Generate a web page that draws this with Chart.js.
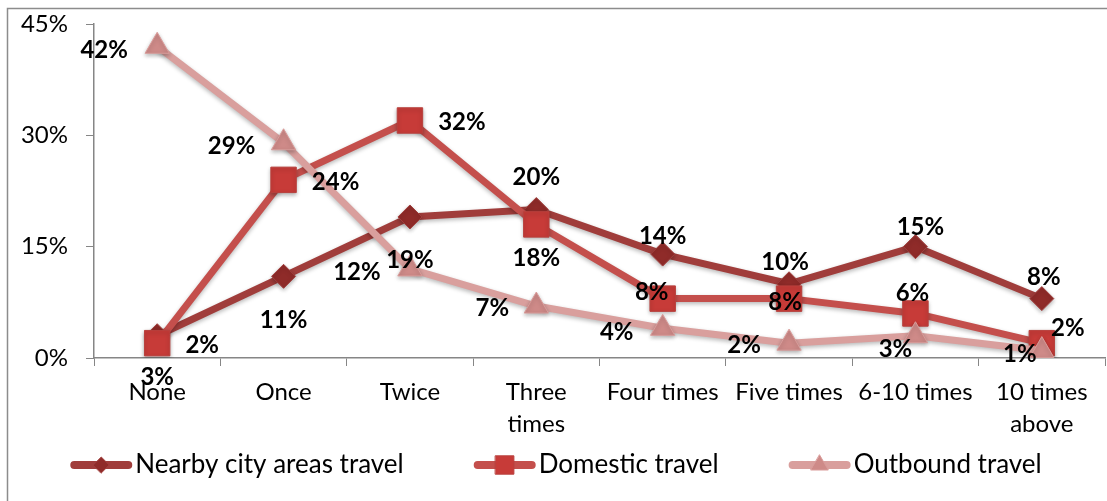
<!DOCTYPE html>
<html>
<head>
<meta charset="utf-8">
<title>Travel frequency</title>
<script src="https://cdn.jsdelivr.net/npm/chart.js@4.4.1/dist/chart.umd.min.js"></script>
<style>
    html, body { margin: 0; padding: 0; background: #fff; overflow: hidden; }
    #wrap { position: relative; width: 1107px; height: 501px; }
</style>
</head>
<body>
<div id="wrap"><canvas id="travelChart"></canvas></div>
<script>
// 카테고리 / 시리즈 데이터
const categories = ['None', 'Once', 'Twice', ['Three', 'times'], 'Four times', 'Five times', '6-10 times', ['10 times', 'above']];
const nearbyValues = [3, 11, 19, 20, 14, 10, 15, 8];
const domesticValues = [2, 24, 32, 18, 8, 8, 6, 2];
const outboundValues = [42, 29, 12, 7, 4, 2, 3, 1];
const yTicks = [0, 15, 30, 45];
const seriesNames = ['Nearby city areas travel', 'Domestic travel', 'Outbound travel'];

// 데이터 라벨 위치 (점 기준 dx, dy)
const nearbyLabelOffsets = [[0, 42], [0, 44], [0, 43], [0, -32], [0, -18], [-4, -22], [5, -19], [2, -21]];
const domesticLabelOffsets = [[45, 2], [52, 2], [52, 2], [0, 34], [-11, -6], [-4, 4], [-3, -20], [26, -15]];
const outboundLabelOffsets = [[-53, 4], [-52, 4], [-53, 3], [-44, 2], [-46, 4], [-45, 2], [-20, 14], [-22, 4]];

const FONT = 'Lato, "Open Sans", sans-serif';
const AXIS_COLOR = '#868686';

// 차트 테두리 (왼쪽/위)
const framePlugin = {
    id: 'frame',
    beforeDraw(chart) {
        const ctx = chart.ctx;
        ctx.save();
        ctx.strokeStyle = '#8c8c8c';
        ctx.lineWidth = 1.5;
        ctx.beginPath();
        ctx.moveTo(7.5, chart.height + 5);
        ctx.lineTo(7.5, 8.5);
        ctx.lineTo(chart.width + 5, 8.5);
        ctx.stroke();
        ctx.restore();
    }
};

// 선/마커 그림자
const shadowPlugin = {
    id: 'seriesShadow',
    beforeDatasetsDraw(chart) {
        const ctx = chart.ctx;
        ctx.save();
        ctx.shadowColor = 'rgba(0, 0, 0, 0.28)';
        ctx.shadowBlur = 4;
        ctx.shadowOffsetY = 2;
    },
    afterDatasetsDraw(chart) {
        chart.ctx.restore();
    }
};

// 데이터 라벨
const dataLabelPlugin = {
    id: 'dataLabels',
    afterDatasetsDraw(chart) {
        const ctx = chart.ctx;
        ctx.save();
        ctx.font = 'bold 24px ' + FONT;
        ctx.fillStyle = '#000';
        ctx.textAlign = 'center';
        ctx.textBaseline = 'middle';
        chart.data.datasets.forEach((ds, i) => {
            const meta = chart.getDatasetMeta(i);
            meta.data.forEach((pt, j) => {
                const [dx, dy] = ds.labelOffsets[j];
                ctx.fillText(ds.data[j] + '%', pt.x + dx, pt.y + dy);
            });
        });
        ctx.restore();
    }
};

// 하단 범례 (선 + 마커)
const legendPlugin = {
    id: 'bottomLegend',
    afterDraw(chart) {
        const ctx = chart.ctx;
        const y = 465;
        const lineLen = 62, textGap = 3, itemGap = 70;
        ctx.save();
        ctx.font = '26px ' + FONT;
        const widths = chart.data.datasets.map(ds => ctx.measureText(ds.label).width);
        const total = widths.reduce((s, w) => s + lineLen + textGap + w, 0) + itemGap * (widths.length - 1);
        let x = 556 - total / 2;
        chart.data.datasets.forEach((ds, i) => {
            ctx.strokeStyle = ds.borderColor;
            ctx.lineWidth = 8;
            ctx.lineCap = 'round';
            ctx.beginPath();
            ctx.moveTo(x + 4, y);
            ctx.lineTo(x + lineLen - 4, y);
            ctx.stroke();

            ctx.fillStyle = ds.pointBackgroundColor;
            ctx.strokeStyle = ds.pointBorderColor;
            ctx.lineWidth = 1;
            Chart.helpers.drawPoint(ctx, {
                pointStyle: ds.pointStyle,
                rotation: 0,
                radius: ds.legendRadius,
                borderWidth: 1
            }, x + lineLen / 2, y);

            ctx.fillStyle = '#000';
            ctx.textAlign = 'left';
            ctx.textBaseline = 'middle';
            ctx.fillText(ds.label, x + lineLen + textGap, y);
            x += lineLen + textGap + widths[i] + itemGap;
        });
        ctx.restore();
    }
};

new Chart(document.getElementById('travelChart'), {
    type: 'line',
    data: {
        labels: categories,
        datasets: [
            {
                label: seriesNames[0],
                data: nearbyValues,
                labelOffsets: nearbyLabelOffsets,
                borderColor: '#A03D3B',
                borderWidth: 7,
                pointStyle: 'rectRot',
                pointRadius: 12,
                legendRadius: 8,
                pointBackgroundColor: '#8F2B29',
                pointBorderColor: '#A13F3D',
                pointBorderWidth: 1,
                order: 3
            },
            {
                label: seriesNames[1],
                data: domesticValues,
                labelOffsets: domesticLabelOffsets,
                borderColor: '#C44F4C',
                borderWidth: 7,
                pointStyle: 'rect',
                pointRadius: 18,
                legendRadius: 13,
                pointBackgroundColor: '#C73B38',
                pointBorderColor: '#B8403D',
                pointBorderWidth: 1,
                order: 2
            },
            {
                label: seriesNames[2],
                data: outboundValues,
                labelOffsets: outboundLabelOffsets,
                borderColor: '#D99F9D',
                borderWidth: 7,
                pointStyle: 'triangle',
                pointRadius: 14,
                legendRadius: 10,
                pointBackgroundColor: '#CE8A88',
                pointBorderColor: '#D99C9A',
                pointBorderWidth: 1,
                order: 1
            }
        ]
    },
    options: {
        responsive: true,
        maintainAspectRatio: false,
        animation: false,
        events: [],
        layout: { autoPadding: false, padding: { left: 0, right: 2, top: 24, bottom: 0 } },
        elements: {
            line: { tension: 0, borderJoinStyle: 'round', borderCapStyle: 'round' }
        },
        plugins: {
            legend: { display: false },
            tooltip: { enabled: false }
        },
        scales: {
            x: {
                offset: true,
                grid: { offset: true, drawOnChartArea: false, tickLength: 8, color: AXIS_COLOR },
                border: { color: AXIS_COLOR, width: 1.5 },
                ticks: {
                    font: { family: FONT, size: 24, lineHeight: 1.34 },
                    color: '#000',
                    padding: 10,
                    maxRotation: 0,
                    autoSkip: false
                },
                afterFit: scale => {
                    scale.height = 143;
                    scale.paddingLeft = 0;
                    scale.paddingRight = 0;
                }
            },
            y: {
                min: 0,
                max: 45,
                afterBuildTicks: scale => { scale.ticks = yTicks.map(v => ({ value: v })); },
                grid: { drawOnChartArea: false, tickLength: 8, color: AXIS_COLOR },
                border: { color: AXIS_COLOR, width: 1.5 },
                ticks: {
                    callback: value => value + '%',
                    font: { family: FONT, size: 24 },
                    color: '#000',
                    padding: 18
                },
                afterFit: scale => {
                    scale.width = 94;
                    scale.paddingTop = 0;
                    scale.paddingBottom = 0;
                }
            }
        }
    },
    plugins: [framePlugin, shadowPlugin, dataLabelPlugin, legendPlugin]
});
</script>
</body>
</html>
